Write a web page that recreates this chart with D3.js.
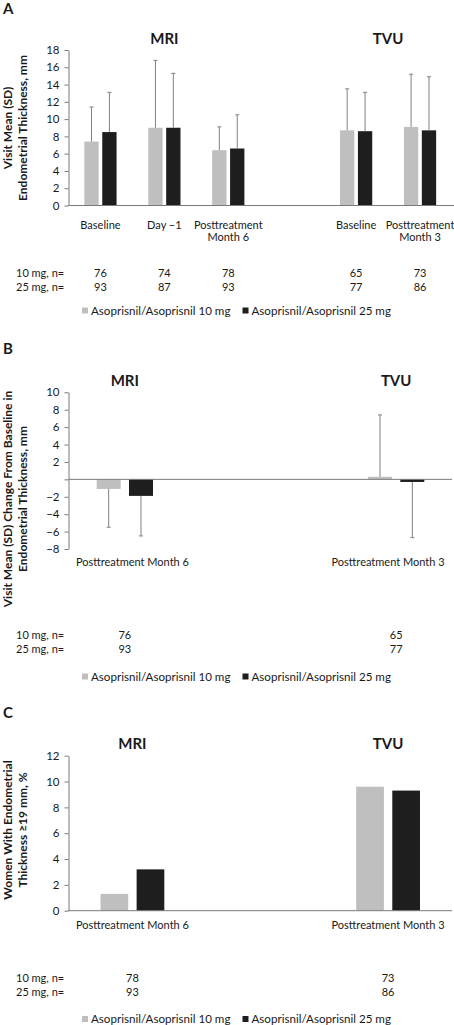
<!DOCTYPE html>
<html>
<head>
<meta charset="utf-8">
<script src="https://cdn.jsdelivr.net/npm/d3@7"></script>
<style>
  body { margin: 0; background: #fff; }
  svg text { font-family: Lato, "Open Sans", sans-serif; fill: #1a1a1a; }
</style>
</head>
<body>
<svg id="chart" width="454" height="1025"></svg>
<script>
// Endometrial thickness -- three stacked bar panels (A, B, C)

var seriesNames = ["Asoprisnil/Asoprisnil 10 mg", "Asoprisnil/Asoprisnil 25 mg"];
var nRowLabels = ["10 mg, n=", "25 mg, n="];
var modalities = ["MRI", "TVU"];

// Panel A: visit mean (SD) thickness
var aLabels = [["Baseline"], ["Day \u22121"], ["Posttreatment", "Month 6"], [], ["Baseline"], ["Posttreatment", "Month 3"]];
var aMean10 = [7.4, 9.0, 6.4, null, 8.7, 9.1];
var aSd10 = [4.0, 7.8, 2.7, null, 4.8, 6.1];
var aMean25 = [8.5, 9.0, 6.6, null, 8.6, 8.7];
var aSd25 = [4.6, 6.3, 3.9, null, 4.5, 6.2];
var aN10 = [76, 74, 78, null, 65, 73];
var aN25 = [93, 87, 93, null, 77, 86];
var aModalitySlots = [[0, 1, 2], [4, 5]];
var aTicks = [0, 2, 4, 6, 8, 10, 12, 14, 16, 18];

// Panel B: change from baseline
var bLabels = [["Posttreatment Month 6"], [], ["Posttreatment Month 3"]];
var bMean10 = [-1.1, null, 0.3];
var bSd10 = [4.4, null, 7.1];
var bMean25 = [-1.9, null, -0.3];
var bSd25 = [4.6, null, 6.4];
var bN10 = [76, null, 65];
var bN25 = [93, null, 77];
var bModalitySlots = [[0], [2]];
var bTicks = [-8, -6, -4, -2, 0, 2, 4, 6, 8, 10];

// Panel C: women with thickness >= 19 mm
var cLabels = [["Posttreatment Month 6"], [], ["Posttreatment Month 3"]];
var cMean10 = [1.3, null, 9.6];
var cMean25 = [3.2, null, 9.3];
var cN10 = [78, null, 73];
var cN25 = [93, null, 86];
var cModalitySlots = [[0], [2]];
var cTicks = [0, 2, 4, 6, 8, 10, 12];

var LIGHT = "#bfbfbf";
var DARK = "#1e1e1e";
var ERR = "#808080";
var AXIS = "#7a7a7a";

var svg = d3.select("#chart");

///////////////////////////////////////////////////////////////////////////////
// one panel

function drawPanel(p)
{
  var g = svg.append("g");
  var axisX = 68.5;
  var slots = d3.range(p.labels.length);

  var y = d3.scaleLinear().domain(p.yDomain).range([p.yBottom, p.yTop]);
  var x = d3.scaleBand().domain(slots).range([axisX, 452]);
  var xb = d3.scaleBand().domain(slots).range(p.barRange || [axisX, 452]);
  var mid = function (i) { return xb(i) + xb.bandwidth() / 2; };

  // panel letter
  g.append("text")
    .attr("x", 3).attr("y", p.letterY)
    .style("font-size", "15px").style("font-weight", "bold")
    .text(p.letter);

  // modality titles
  modalities.forEach(function (m, k) {
    g.append("text")
      .attr("x", d3.mean(p.modalitySlots[k], mid))
      .attr("y", p.titleY)
      .attr("text-anchor", "middle")
      .style("font-size", "15px").style("font-weight", "bold")
      .text(m);
  });

  // y axis
  var yAxis = d3.axisLeft(y)
    .tickValues(p.ticks)
    .tickSize(4)
    .tickSizeOuter(0)
    .tickPadding(5)
    .tickFormat(function (d) { return (p.hideZero && d === 0) ? "" : d3.format("")(d); });

  var ya = g.append("g")
    .attr("transform", "translate(" + axisX + ",0)")
    .call(yAxis);
  ya.select(".domain").attr("stroke", AXIS);
  ya.selectAll(".tick line").attr("stroke", AXIS);
  ya.selectAll(".tick text")
    .style("font-family", "Lato, 'Open Sans', sans-serif")
    .style("font-size", "11.5px")
    .attr("fill", "#1a1a1a");

  // y axis title, two lines
  var yt = g.append("g")
    .attr("transform", "translate(0," + p.yTitleCenter + ") rotate(-90)");
  p.yTitle.forEach(function (line, k) {
    yt.append("text")
      .attr("x", 0)
      .attr("y", 11.5 + k * 15)
      .attr("text-anchor", "middle")
      .style("font-size", "12px").style("font-weight", "bold")
      .text(line);
  });

  // bars + error bars
  var series = [
    { mean: p.mean10, sd: p.sd10, color: LIGHT },
    { mean: p.mean25, sd: p.sd25, color: DARK }
  ];

  series.forEach(function (s, si) {
    var rows = slots.filter(function (i) { return s.mean[i] != null; });
    var bx = function (i) {
      return si === 0 ? mid(i) - p.barGap / 2 - p.barW : mid(i) + p.barGap / 2;
    };

    g.selectAll(".bar" + si + p.letter)
      .data(rows)
      .enter().append("rect")
      .attr("x", bx)
      .attr("width", p.barW)
      .attr("y", function (i) { return y(Math.max(0, s.mean[i])); })
      .attr("height", function (i) { return Math.abs(y(s.mean[i]) - y(0)); })
      .attr("fill", s.color);

    if (s.sd)
    {
      rows.forEach(function (i) {
        var v = s.mean[i];
        var end = v >= 0 ? v + s.sd[i] : v - s.sd[i];
        var cx = bx(i) + p.barW / 2;
        g.append("line")
          .attr("x1", cx).attr("x2", cx)
          .attr("y1", y(v)).attr("y2", y(end))
          .attr("stroke", ERR).attr("stroke-width", 1);
        g.append("line")
          .attr("x1", cx - 2).attr("x2", cx + 2)
          .attr("y1", y(end)).attr("y2", y(end))
          .attr("stroke", ERR).attr("stroke-width", 1);
      });
    }
  });

  // category axis line at zero
  g.append("line")
    .attr("x1", axisX).attr("x2", p.xEnd)
    .attr("y1", y(0)).attr("y2", y(0))
    .attr("stroke", AXIS).attr("stroke-width", 1);

  // category labels
  slots.forEach(function (i) {
    p.labels[i].forEach(function (line, k) {
      g.append("text")
        .attr("x", x(i) + x.bandwidth() / 2)
        .attr("y", p.labelY + k * 11.5)
        .attr("text-anchor", "middle")
        .style("font-size", "11px")
        .text(line);
    });
  });

  // n rows
  [p.n10, p.n25].forEach(function (ns, r) {
    var ry = p.nY + r * 14;
    g.append("text")
      .attr("x", 16).attr("y", ry)
      .style("font-size", "11px")
      .text(nRowLabels[r]);
    slots.forEach(function (i) {
      if (ns[i] == null) return;
      g.append("text")
        .attr("x", mid(i)).attr("y", ry)
        .attr("text-anchor", "middle")
        .style("font-size", "11px")
        .text(ns[i]);
    });
  });

  // legend
  var legendX = [82, 242.5];
  [LIGHT, DARK].forEach(function (c, k) {
    g.append("rect")
      .attr("x", legendX[k]).attr("y", p.legendY - 7)
      .attr("width", 6).attr("height", 6)
      .attr("fill", c);
    g.append("text")
      .attr("x", legendX[k] + 9).attr("y", p.legendY)
      .style("font-size", "11.6px")
      .text(seriesNames[k]);
  });
}

///////////////////////////////////////////////////////////////////////////////
// the three panels

drawPanel({
  letter: "A", letterY: 13.5, titleY: 44,
  labels: aLabels, mean10: aMean10, sd10: aSd10, mean25: aMean25, sd25: aSd25,
  n10: aN10, n25: aN25, modalitySlots: aModalitySlots, ticks: aTicks,
  yDomain: [0, 18], yTop: 50, yBottom: 205.5, xEnd: 454,
  barW: 14.3, barGap: 3.6,
  yTitle: ["Visit Mean (SD)", "Endometrial Thickness, mm"], yTitleCenter: 128,
  labelY: 229, nY: 277, legendY: 314.5
});

drawPanel({
  letter: "B", letterY: 354, titleY: 386,
  labels: bLabels, mean10: bMean10, sd10: bSd10, mean25: bMean25, sd25: bSd25,
  n10: bN10, n25: bN25, modalitySlots: bModalitySlots, ticks: bTicks, hideZero: true,
  yDomain: [-8, 10], yTop: 392.3, yBottom: 549, xEnd: 452,
  barW: 24, barGap: 8.3, barRange: [57, 464],
  yTitle: ["Visit Mean (SD) Change From Baseline in", "Endometrial Thickness, mm"], yTitleCenter: 499,
  labelY: 566, nY: 638.5, legendY: 680.5
});

drawPanel({
  letter: "C", letterY: 718, titleY: 749,
  labels: cLabels, mean10: cMean10, mean25: cMean25,
  n10: cN10, n25: cN25, modalitySlots: cModalitySlots, ticks: cTicks,
  yDomain: [0, 12], yTop: 755.7, yBottom: 910.7, xEnd: 452,
  barW: 27.7, barGap: 8.4,
  yTitle: ["Women With Endometrial", "Thickness \u226519 mm, %"], yTitleCenter: 830,
  labelY: 929, nY: 982, legendY: 1023
});
</script>
</body>
</html>
